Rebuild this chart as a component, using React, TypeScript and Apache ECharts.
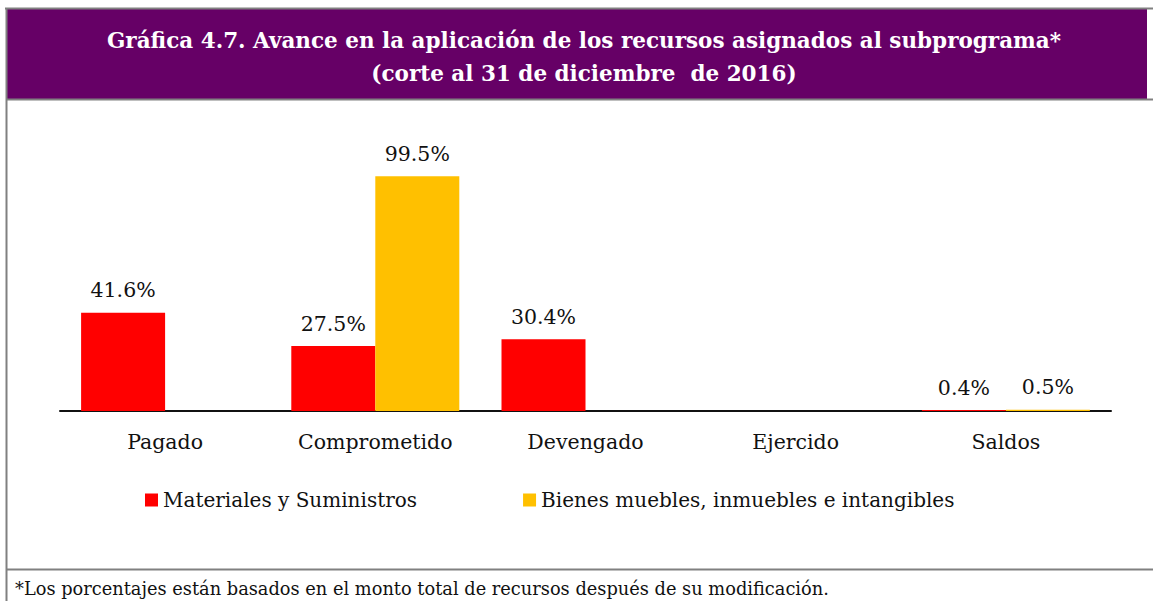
import React, { useEffect, useRef } from "react";
import * as echarts from "echarts";

const categories = ["Pagado", "Comprometido", "Devengado", "Ejercido", "Saldos"];
const materiales = [41.6, 27.5, 30.4, 0, 0.4];
const bienes = [0, 99.5, 0, 0, 0.5];
const seriesNames = ["Materiales y Suministros", "Bienes muebles, inmuebles e intangibles"];
const titleLines = [
  "Gráfica 4.7. Avance en la aplicación de los recursos asignados al subprograma*",
  "(corte al 31 de diciembre  de 2016)",
];
const footnote = "*Los porcentajes están basados en el monto total de recursos después de su modificación.";

const FONT = "'DejaVu Serif', 'Liberation Serif', serif";

export default function App() {
  const ref = useRef<HTMLDivElement>(null);
  useEffect(() => {
    document.body.style.margin = "0";
    const chart = echarts.init(ref.current!, null, { renderer: "svg" });
    const fmt = (p: any) => (p.value > 0 ? p.value.toFixed(1) + "%" : "");
    const labelStyle = { show: true, position: "top", distance: 12, formatter: fmt, fontFamily: FONT, fontSize: 20.5, color: "#111" };
    chart.setOption({
      animation: false,
      backgroundColor: "#ffffff",
      textStyle: { fontFamily: FONT },
      grid: { left: 60, right: 42, top: 175, bottom: 190 },
      legend: {
        left: 140,
        top: 485,
        itemWidth: 13,
        itemHeight: 13,
        itemGap: 106,
        icon: "rect",
        textStyle: { fontFamily: FONT, fontSize: 20, color: "#111" },
        data: seriesNames,
      },
      xAxis: {
        type: "category",
        data: categories,
        axisLine: { lineStyle: { color: "#111", width: 2 } },
        axisTick: { show: false },
        axisLabel: { fontFamily: FONT, fontSize: 20.5, color: "#111", margin: 20 },
      },
      yAxis: { type: "value", min: 0, max: 100, show: false, splitLine: { show: false } },
      series: [
        {
          name: seriesNames[0],
          type: "bar",
          data: materiales,
          barWidth: 84,
          barGap: "0%",
          itemStyle: { color: "#ff0000" },
          label: labelStyle,
        },
        {
          name: seriesNames[1],
          type: "bar",
          data: bienes,
          barWidth: 84,
          barGap: "0%",
          itemStyle: { color: "#ffc000" },
          label: labelStyle,
        },
      ],
      graphic: [
        { type: "rect", shape: { x: 6, y: 8, width: 1141, height: 91 }, style: { fill: "#660066" }, z: 0 },
        { type: "line", shape: { x1: 5, y1: 8.5, x2: 1153, y2: 8.5 }, style: { stroke: "#808080", lineWidth: 2 } },
        { type: "line", shape: { x1: 6, y1: 99.5, x2: 1153, y2: 99.5 }, style: { stroke: "#808080", lineWidth: 2 } },
        { type: "line", shape: { x1: 6.5, y1: 8, x2: 6.5, y2: 601 }, style: { stroke: "#808080", lineWidth: 2 } },
        { type: "line", shape: { x1: 6, y1: 569.5, x2: 1153, y2: 569.5 }, style: { stroke: "#808080", lineWidth: 2 } },
        {
          type: "text",
          x: 584,
          y: 40,
          style: { text: titleLines[0], fill: "#ffffff", font: "bold 21.5px " + FONT, textAlign: "center", textVerticalAlign: "middle" },
        },
        {
          type: "text",
          x: 584,
          y: 73,
          style: { text: titleLines[1], fill: "#ffffff", font: "bold 21.5px " + FONT, textAlign: "center", textVerticalAlign: "middle" },
        },
        {
          type: "text",
          x: 15,
          y: 588,
          style: { text: footnote, fill: "#111", font: "17.8px " + FONT, textAlign: "left", textVerticalAlign: "middle" },
        },
      ],
    });
    return () => chart.dispose();
  }, []);
  return <div ref={ref} style={{ width: 1153, height: 601 }} />;
}
